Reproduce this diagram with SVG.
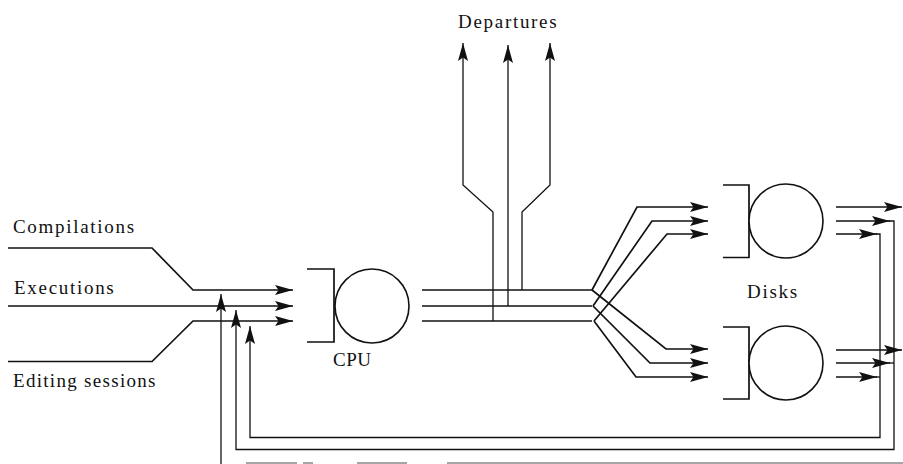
<svg xmlns="http://www.w3.org/2000/svg" width="903" height="464" viewBox="0 0 903 464">
  <style>
    .ln { fill: none; stroke: #111; stroke-width: 1.7; stroke-linejoin: miter; }
    .fb { fill: none; stroke: #111; stroke-width: 1.3; }
    .srv { fill: #fff; stroke: #111; stroke-width: 1.6; }
    .brk { fill: none; stroke: #111; stroke-width: 1.7; }
    .lbl { font-family: "Liberation Serif", "Times New Roman", serif; font-size: 19px; fill: #111; letter-spacing: 1.7px; }
    .faint { fill: none; stroke: #888; stroke-width: 1.5; }
  </style>
  <defs>
    <marker id="ah" markerUnits="userSpaceOnUse" markerWidth="22" markerHeight="14" viewBox="-20 -7 22 14" refX="0" refY="0" orient="auto">
      <path d="M0,0 L-18,-5 L-14.5,0 L-18,5 Z" fill="#111"/>
    </marker>
  </defs>

  <rect width="903" height="464" fill="#fff"/>

  <g id="connectors">
    <!-- arrivals -->
    <path class="ln" d="M8,248 L152,248 L193,290 L293,290" marker-end="url(#ah)"/>
    <path class="ln" d="M8,306 L293,306" marker-end="url(#ah)"/>
    <path class="ln" d="M8,361.5 L152,361.5 L193,321 L293,321" marker-end="url(#ah)"/>

    <!-- CPU outputs -->
    <path class="ln" d="M422,290 L592,290"/>
    <path class="ln" d="M422,306 L592,306"/>
    <path class="ln" d="M422,321 L592,321"/>

    <!-- departures -->
    <path class="fb" d="M493,321 L493,212 L463,185 L463,43" marker-end="url(#ah)"/>
    <path class="fb" d="M508,306 L508,45" marker-end="url(#ah)"/>
    <path class="fb" d="M522,290 L522,212 L550,185 L550,43" marker-end="url(#ah)"/>

    <!-- fan to disks -->
    <path class="ln" d="M592,290 L637,207 L708,207" marker-end="url(#ah)"/>
    <path class="ln" d="M593,306 L652,221 L708,221" marker-end="url(#ah)"/>
    <path class="ln" d="M594,321 L667,234 L708,234" marker-end="url(#ah)"/>
    <path class="ln" d="M592,290 L666,349 L708,349" marker-end="url(#ah)"/>
    <path class="ln" d="M593,306 L650,363 L708,363" marker-end="url(#ah)"/>
    <path class="ln" d="M594,321 L636,377 L708,377" marker-end="url(#ah)"/>

    <!-- disk outputs leaving -->
    <path class="ln" d="M836,207 L902,207" marker-end="url(#ah)"/>
    <path class="ln" d="M836,350 L902,350" marker-end="url(#ah)"/>

    <!-- feedback to executions -->
    <path class="ln" d="M836,221 L890,221" marker-end="url(#ah)"/>
    <path class="ln" d="M836,363 L890,363" marker-end="url(#ah)"/>
    <path class="fb" d="M889,221 L894,221 L894,449.5 L236,449.5 L236,310" marker-end="url(#ah)"/>
    <path class="fb" d="M889,363 L894,363"/>

    <!-- feedback to editing sessions -->
    <path class="ln" d="M836,234 L877,234" marker-end="url(#ah)"/>
    <path class="ln" d="M836,377 L877,377" marker-end="url(#ah)"/>
    <path class="fb" d="M876,234 L880,234 L880,437.5 L250,437.5 L250,326" marker-end="url(#ah)"/>
    <path class="fb" d="M876,377 L880,377"/>

    <!-- feedback to compilations -->
    <path class="fb" d="M221,464 L221,294" marker-end="url(#ah)"/>
    <path class="faint" d="M246,463 H297 M303,463 H313 M357,463 H407 M447,463 H903"/>
  </g>

  <g id="compilations"><text class="lbl" x="13" y="233">Compilations</text></g>
  <g id="executions"><text class="lbl" x="14" y="294">Executions</text></g>
  <g id="editing"><text class="lbl" x="13" y="387" style="letter-spacing:1.3px">Editing sessions</text></g>

  <g id="cpu">
    <path class="brk" d="M307,269 L334,269 L334,342 L307,342"/>
    <circle class="srv" cx="372" cy="306" r="37"/>
    <text class="lbl" x="333" y="366" style="letter-spacing:0.5px">CPU</text>
  </g>

  <g id="departures"><text class="lbl" x="458" y="28">Departures</text></g>

  <g id="disk1">
    <path class="brk" d="M723,185 L749,185 L749,257.5 L723,257.5"/>
    <circle class="srv" cx="786" cy="221" r="37"/>
  </g>
  <g id="disk2">
    <path class="brk" d="M723,327 L749,327 L749,399 L723,399"/>
    <circle class="srv" cx="786" cy="363" r="37"/>
  </g>
  <g id="disks-label"><text class="lbl" x="747" y="298">Disks</text></g>
</svg>
